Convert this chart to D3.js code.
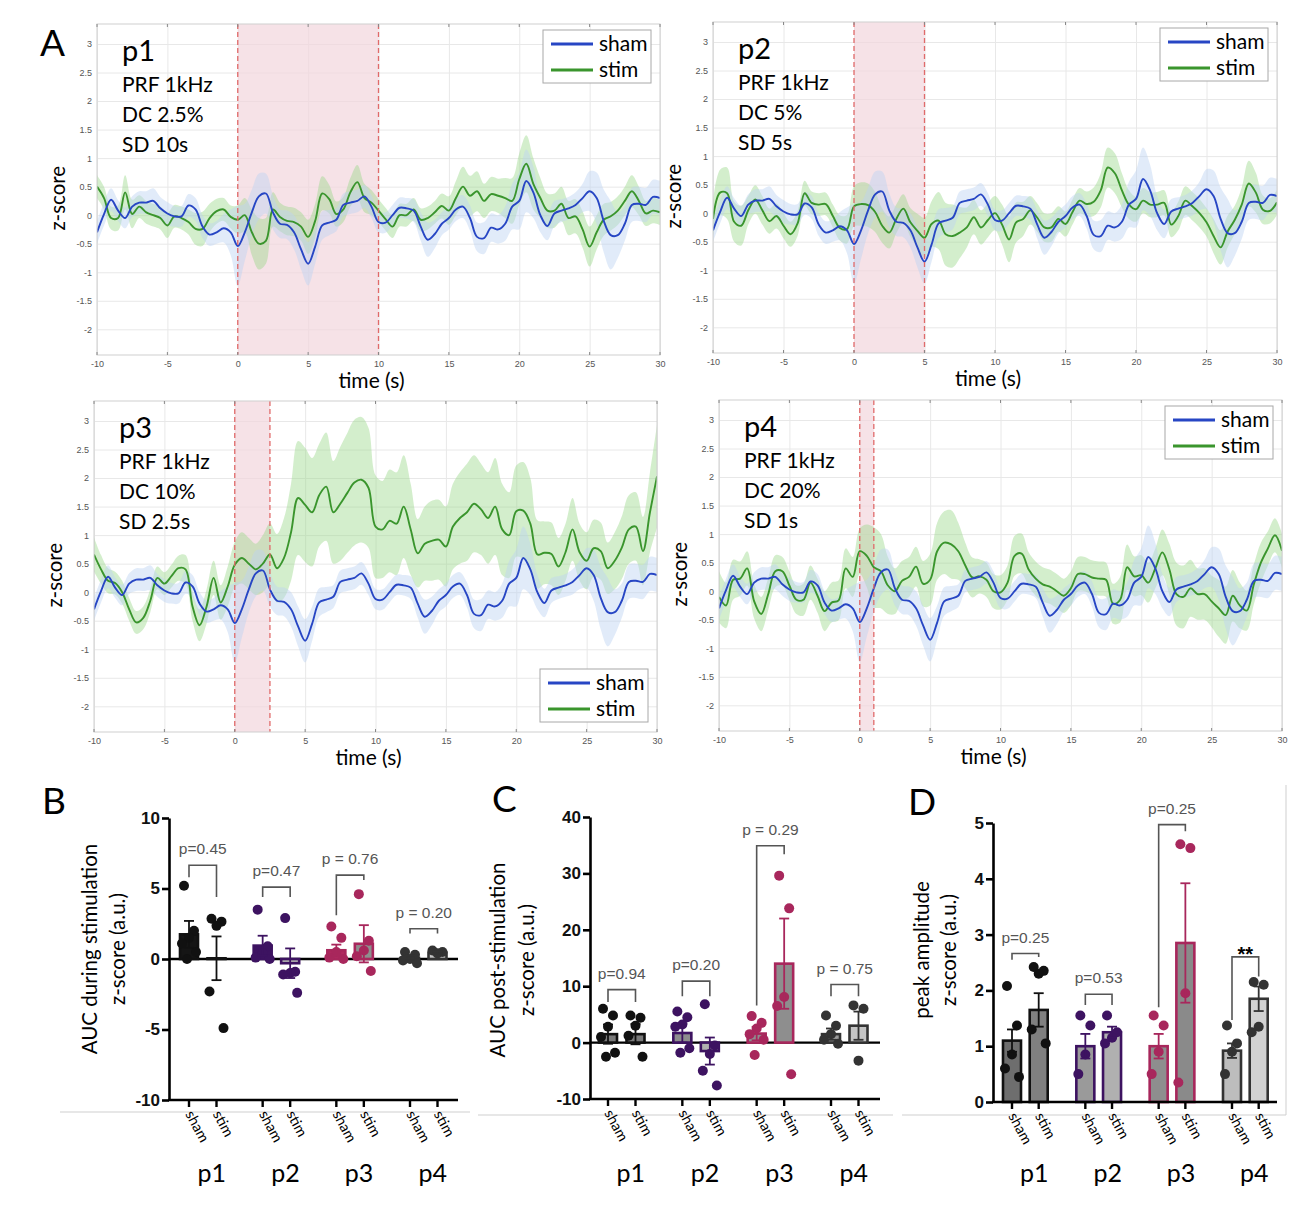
<!DOCTYPE html>
<html><head><meta charset="utf-8">
<script src="https://cdn.jsdelivr.net/npm/d3@7"></script>
<style>body{margin:0;background:#fff}svg{display:block}</style>
</head><body>
<svg id="fig" width="1314" height="1220"></svg>
<script>
// ================= DATA =================
// Panel A: time series sampled every 0.5 s from -10 s to 30 s (81 samples)
const timeStart = -10, timeStep = 0.5;
const shamMean = [
 -0.30,0.02,0.27,0.08,-0.05,0.15,0.22,0.22,0.25,0.12,
 0.03,-0.02,-0.02,0.17,0.10,-0.20,-0.34,-0.30,-0.23,-0.30,
 -0.54,-0.30,0.05,0.33,0.38,0.05,-0.15,-0.17,-0.30,-0.60,
 -0.85,-0.55,-0.18,-0.13,-0.08,0.18,0.22,0.25,0.33,0.15,
 -0.12,-0.13,0.00,0.13,0.12,0.08,-0.20,-0.43,-0.33,-0.15,
 -0.05,0.10,0.15,-0.05,-0.38,-0.40,-0.22,-0.25,-0.15,0.15,
 0.25,0.60,0.40,0.00,-0.19,0.03,0.08,0.12,0.18,0.30,
 0.42,0.30,-0.10,-0.35,-0.35,-0.15,0.18,0.20,0.18,0.32,
 0.30];
const shamSem = [
 0.20,0.20,0.20,0.18,0.18,0.18,0.20,0.20,0.22,0.20,
 0.20,0.18,0.18,0.20,0.20,0.20,0.20,0.20,0.25,0.40,
 0.70,0.50,0.40,0.40,0.35,0.30,0.25,0.25,0.30,0.35,
 0.38,0.30,0.25,0.22,0.20,0.20,0.20,0.20,0.20,0.20,
 0.18,0.18,0.18,0.18,0.18,0.20,0.25,0.30,0.25,0.20,
 0.20,0.20,0.20,0.22,0.25,0.28,0.25,0.25,0.30,0.40,
 0.50,0.55,0.45,0.30,0.25,0.22,0.20,0.20,0.22,0.25,
 0.35,0.45,0.55,0.60,0.40,0.30,0.30,0.30,0.30,0.30,
 0.30];
const stimMeanP1 = [
 0.50,0.30,-0.05,-0.05,0.40,0.02,0.15,0.05,0.00,-0.05,
 -0.18,-0.02,-0.05,-0.12,-0.24,-0.24,-0.05,0.07,0.10,-0.03,
 -0.08,0.00,-0.30,-0.50,-0.45,0.10,-0.03,-0.10,-0.12,-0.20,
 -0.38,-0.10,0.38,0.28,0.02,0.10,0.40,0.58,0.30,0.22,
 0.08,-0.07,-0.20,0.00,0.00,0.10,-0.08,-0.05,0.05,0.16,
 0.08,0.30,0.50,0.34,0.42,0.25,0.37,0.34,0.30,0.25,
 0.63,0.90,0.55,0.30,0.08,0.08,0.20,-0.05,-0.02,-0.25,
 -0.55,-0.30,-0.08,-0.02,0.08,0.25,0.42,0.25,0.03,0.08,
 0.05];
const stimSemP1 = [
 0.20,0.20,0.20,0.22,0.30,0.25,0.20,0.20,0.20,0.20,
 0.22,0.20,0.20,0.22,0.28,0.30,0.25,0.22,0.20,0.20,
 0.25,0.30,0.40,0.45,0.40,0.30,0.25,0.25,0.25,0.25,
 0.30,0.30,0.30,0.25,0.22,0.22,0.25,0.30,0.25,0.22,
 0.20,0.20,0.20,0.20,0.20,0.20,0.20,0.20,0.20,0.22,
 0.25,0.30,0.35,0.35,0.35,0.30,0.30,0.30,0.35,0.40,
 0.45,0.50,0.45,0.35,0.30,0.30,0.30,0.30,0.30,0.32,
 0.35,0.30,0.28,0.25,0.25,0.25,0.28,0.25,0.22,0.22,
 0.22];
const stimMeanP2 = [
 -0.10,0.36,0.35,-0.15,-0.22,0.05,0.24,0.05,-0.14,-0.05,
 -0.22,-0.37,-0.18,0.35,0.18,0.15,0.16,-0.05,-0.26,-0.28,
 0.12,0.16,0.14,0.02,-0.22,-0.34,-0.10,0.08,-0.16,-0.31,
 -0.43,-0.19,-0.13,-0.37,-0.40,-0.34,-0.25,-0.07,-0.25,-0.12,
 0.00,-0.20,-0.46,-0.16,-0.10,0.05,-0.08,-0.25,-0.25,-0.10,
 -0.19,0.02,0.22,0.16,0.20,0.40,0.80,0.70,0.40,0.15,
 0.07,0.22,0.15,0.15,0.18,-0.20,-0.05,0.22,0.12,0.00,
 -0.16,-0.40,-0.60,-0.32,-0.12,0.15,0.52,0.36,0.06,0.04,
 0.19];
const stimSemP2 = [
 0.30,0.40,0.45,0.35,0.35,0.25,0.25,0.25,0.22,0.22,
 0.22,0.22,0.22,0.22,0.20,0.20,0.20,0.20,0.22,0.25,
 0.35,0.38,0.38,0.35,0.30,0.28,0.25,0.25,0.25,0.30,
 0.35,0.40,0.50,0.55,0.55,0.45,0.35,0.30,0.30,0.30,
 0.30,0.35,0.40,0.35,0.30,0.25,0.25,0.25,0.25,0.22,
 0.22,0.22,0.22,0.22,0.25,0.30,0.35,0.35,0.30,0.25,
 0.22,0.22,0.22,0.22,0.22,0.22,0.25,0.25,0.25,0.25,
 0.25,0.30,0.30,0.28,0.25,0.30,0.40,0.35,0.25,0.22,
 0.22];
const stimMeanP3 = [
 0.66,0.40,0.20,0.16,0.00,-0.30,-0.53,-0.45,-0.15,0.25,
 0.15,0.28,0.42,0.40,-0.25,-0.58,-0.25,0.25,-0.18,0.10,
 0.48,0.60,0.50,0.40,0.50,0.66,0.42,0.60,1.05,1.65,
 1.53,1.40,1.70,1.85,1.40,1.55,1.74,1.92,1.97,1.83,
 1.15,1.10,1.25,1.20,1.50,1.10,0.68,0.85,0.90,0.92,
 0.80,1.15,1.30,1.40,1.55,1.45,1.30,1.50,1.10,1.00,
 1.42,1.43,1.20,0.66,0.69,0.67,0.45,0.70,1.10,0.70,
 0.55,0.77,0.72,0.42,0.55,0.78,1.10,1.15,0.72,1.40,
 2.03];
const stimSemP3 = [
 0.30,0.25,0.22,0.20,0.20,0.20,0.20,0.20,0.20,0.20,
 0.20,0.20,0.22,0.25,0.25,0.28,0.30,0.30,0.30,0.35,
 0.40,0.45,0.45,0.45,0.50,0.55,0.60,0.70,0.85,1.00,
 1.00,0.95,0.90,0.95,0.90,1.00,1.05,1.10,1.10,1.05,
 0.90,0.85,0.90,0.90,0.90,0.80,0.60,0.65,0.70,0.70,
 0.70,0.75,0.80,0.85,0.85,0.80,0.80,0.85,0.80,0.75,
 0.80,0.85,0.80,0.60,0.55,0.55,0.50,0.50,0.55,0.50,
 0.50,0.50,0.50,0.45,0.50,0.55,0.60,0.60,0.60,0.70,
 0.90];
const stimMeanP4 = [
 -0.10,-0.25,0.20,0.22,0.40,-0.18,-0.40,-0.05,0.35,0.35,
 0.10,-0.15,-0.15,0.15,-0.08,-0.35,-0.20,-0.16,0.40,0.25,
 0.70,0.62,0.42,0.35,0.10,0.00,0.18,0.25,0.43,0.13,
 0.20,0.70,0.85,0.82,0.70,0.45,0.24,0.26,0.20,0.00,
 -0.02,0.15,0.62,0.66,0.38,0.22,0.12,0.08,0.00,-0.08,
 0.05,0.30,0.30,0.24,0.22,0.20,-0.22,-0.15,0.42,0.26,
 0.28,0.15,0.40,0.68,0.38,-0.05,-0.10,0.05,-0.05,-0.05,
 -0.18,-0.30,-0.42,-0.08,-0.25,-0.34,0.12,0.50,0.75,0.98,
 0.71];
const stimSemP4 = [
 0.45,0.40,0.35,0.30,0.30,0.30,0.30,0.28,0.28,0.25,
 0.25,0.25,0.28,0.30,0.30,0.35,0.35,0.35,0.35,0.35,
 0.40,0.55,0.70,0.65,0.50,0.40,0.35,0.35,0.35,0.40,
 0.45,0.50,0.55,0.60,0.50,0.40,0.35,0.30,0.30,0.30,
 0.30,0.30,0.35,0.35,0.30,0.30,0.30,0.30,0.30,0.30,
 0.30,0.30,0.30,0.30,0.30,0.30,0.35,0.40,0.40,0.35,
 0.35,0.35,0.35,0.40,0.45,0.55,0.55,0.50,0.45,0.45,
 0.45,0.50,0.50,0.45,0.40,0.35,0.35,0.35,0.30,0.30,
 0.30];
const panelNames = ["p1","p2","p3","p4"];
const prfLabels = ["PRF 1kHz","PRF 1kHz","PRF 1kHz","PRF 1kHz"];
const dcLabels = ["DC 2.5%","DC 5%","DC 10%","DC 20%"];
const sdLabels = ["SD 10s","SD 5s","SD 2.5s","SD 1s"];
const stimDurations = [10,5,2.5,1];
const xTicksA = [-10,-5,0,5,10,15,20,25,30];
const yTicksA = [3,2.5,2,1.5,1,0.5,0,-0.5,-1,-1.5,-2];
const legendLabels = ["sham","stim"];

// Panels B-D: groups, conditions, bars (mean, SEM), individual points, p-values
const groups = ["p1","p2","p3","p4"];
const conditions = ["sham","stim"];
const bMeans = [[1.75,0.05],[0.95,-0.30],[0.62,1.08],[0.08,0.45]];
const bErr   = [[0.95,1.55],[0.70,1.05],[0.40,1.32],[0.15,0.10]];
const bPoints = [
 [[5.2,2.0,1.5,1.1,0.5,0.0],[2.85,2.65,2.35,-2.3,-4.9]],
 [[3.5,0.9,0.4,0.1,0.0],[2.9,-0.9,-1.0,-1.1,-2.4]],
 [[2.3,1.5,0.5,0.1,0.0],[4.6,1.3,0.6,0.2,-0.85]],
 [[0.5,0.3,0.0,-0.1,-0.3],[0.6,0.5,0.4]]];
const bBrackets = [[6.65,5.8,4.4],[5.1,4.4,4.4],[5.95,3.1,5.6],[2.15,1.8,1.8]];
const bPLabels = ["p=0.45","p=0.47","p = 0.76","p = 0.20"];
const bTicks = [10,5,0,-5,-10];

const cMeans = [[1.5,1.5],[1.7,-1.5],[1.6,14.0],[1.5,3.0]];
const cErr   = [[1.7,1.8],[1.7,2.4],[1.2,8.0],[1.0,2.5]];
const cPoints = [
 [[6.0,4.8,2.8,1.0,-1.8,-2.5],[4.8,4.4,3.0,1.2,-2.5]],
 [[5.5,4.5,3.2,2.8,-1.0,-1.8],[6.8,-0.5,-2.0,-5.0,-7.6]],
 [[4.7,3.5,2.5,1.5,0.5,-2.2],[29.6,23.8,8.1,6.5,-5.6]],
 [[4.8,3.0,1.5,0.5,-0.2],[6.6,6.0,-3.2]]];
const cBrackets = [[9.4,7.2,7.2],[10.9,8.2,8.2],[34.9,6.6,33.4],[10.3,8.2,8.2]];
const cPLabels = ["p=0.94","p=0.20","p = 0.29","p = 0.75"];
const cTicks = [40,30,20,10,0,-10];

const dMeans = [[1.1,1.65],[1.0,1.25],[1.0,2.85],[0.92,1.85]];
const dErr   = [[0.2,0.3],[0.22,0.1],[0.22,1.07],[0.13,0.22]];
const dPoints = [
 [[2.08,1.37,0.85,0.6,0.45],[2.42,2.35,2.3,1.3,1.05]],
 [[1.55,1.37,0.85,0.5],[1.55,1.25,1.15,1.05]],
 [[1.55,1.37,0.9,0.5],[4.62,4.55,1.95,0.35]],
 [[1.37,1.05,0.9,0.5],[2.15,2.1,1.35,1.25]]];
const dBrackets = [[2.66,2.55,2.6],[1.93,1.74,1.74],[4.97,1.7,4.85],[2.6,1.47,2.25]];
const dPLabels = ["p=0.25","p=0.53","p=0.25","**"];
const dTicks = [5,4,3,2,1,0];

// ================= DRAWING =================
const svg = d3.select("#fig");
const FH = "Lato, 'Open Sans', sans-serif";
const FA = "'Liberation Sans', Arial, sans-serif";
const plainFmt = d => String(d);
const times = shamMean.map((_, i) => timeStart + i * timeStep);
const stimMeans = [stimMeanP1, stimMeanP2, stimMeanP3, stimMeanP4];
const stimSems = [stimSemP1, stimSemP2, stimSemP3, stimSemP4];

const aLayout = [
  {x0:97, x1:660, y0:24, y1:355, legend:"top"},
  {x0:713,x1:1277,y0:22, y1:353, legend:"top"},
  {x0:94, x1:657, y0:401,y1:732, legend:"bottom"},
  {x0:719,x1:1282,y0:400,y1:731, legend:"top"}];
const BLUE = "#2746c4", GREEN = "#3a952d";

aLayout.forEach((L, k) => {
  const x = d3.scaleLinear().domain([-10, 30]).range([L.x0, L.x1]);
  const y = d3.scaleLinear().domain([-2.45, 3.35]).range([L.y1, L.y0]);
  const g = svg.append("g");
  const cid = "clipA" + k;
  svg.append("clipPath").attr("id", cid).append("rect")
    .attr("x", L.x0).attr("y", L.y0).attr("width", L.x1 - L.x0).attr("height", L.y1 - L.y0);
  // grid
  g.append("g").attr("transform", `translate(0,${L.y1})`)
    .call(d3.axisBottom(x).tickValues(xTicksA).tickSize(-(L.y1 - L.y0)).tickFormat(""))
    .call(s => { s.select(".domain").remove(); s.selectAll("line").attr("stroke", "#e8e8e8"); });
  g.append("g").attr("transform", `translate(${L.x0},0)`)
    .call(d3.axisLeft(y).tickValues(yTicksA).tickSize(-(L.x1 - L.x0)).tickFormat(""))
    .call(s => { s.select(".domain").remove(); s.selectAll("line").attr("stroke", "#e8e8e8"); });
  // stim window
  g.append("rect").attr("x", x(0)).attr("width", x(stimDurations[k]) - x(0))
    .attr("y", L.y0).attr("height", L.y1 - L.y0).attr("fill", "#f2d5dd").attr("opacity", 0.7);
  const pg = g.append("g").attr("clip-path", `url(#${cid})`);
  const curve = d3.curveCatmullRom.alpha(0.5);
  const band = (m, s) => d3.area().curve(curve).x((d, i) => x(times[i]))
      .y0((d, i) => y(m[i] - s[i])).y1((d, i) => y(m[i] + s[i]))(m);
  const line = m => d3.line().curve(curve).x((d, i) => x(times[i])).y(d => y(d))(m);
  pg.append("path").attr("d", band(stimMeans[k], stimSems[k])).attr("fill", "#96d686").attr("opacity", 0.42);
  pg.append("path").attr("d", band(shamMean, shamSem)).attr("fill", "#bcd3f2").attr("opacity", 0.45);
  pg.append("path").attr("d", line(stimMeans[k])).attr("fill", "none").attr("stroke", GREEN).attr("stroke-width", 1.9);
  pg.append("path").attr("d", line(shamMean)).attr("fill", "none").attr("stroke", BLUE).attr("stroke-width", 1.9);
  // dashed window edges
  [0, stimDurations[k]].forEach(t => g.append("line").attr("x1", x(t)).attr("x2", x(t))
    .attr("y1", L.y0).attr("y2", L.y1).attr("stroke", "#e06a6a").attr("stroke-width", 1.3).attr("stroke-dasharray", "5,3"));
  // box
  g.append("rect").attr("x", L.x0).attr("y", L.y0).attr("width", L.x1 - L.x0).attr("height", L.y1 - L.y0)
    .attr("fill", "none").attr("stroke", "#cfcfcf").attr("stroke-width", 1);
  // tick labels
  g.append("g").attr("transform", `translate(0,${L.y1})`)
    .call(d3.axisBottom(x).tickValues(xTicksA).tickFormat(plainFmt).tickSize(0).tickPadding(6))
    .call(s => { s.select(".domain").remove(); s.selectAll("text").attr("font-family", FA).attr("font-size", 9).attr("fill", "#555"); });
  g.append("g").attr("transform", `translate(${L.x0},0)`)
    .call(d3.axisLeft(y).tickValues(yTicksA).tickFormat(plainFmt).tickSize(0).tickPadding(5))
    .call(s => { s.select(".domain").remove(); s.selectAll("text").attr("font-family", FA).attr("font-size", 9).attr("fill", "#555"); });
  // small inner ticks
  xTicksA.forEach(t => {
    g.append("line").attr("x1", x(t)).attr("x2", x(t)).attr("y1", L.y0).attr("y2", L.y0 + 3).attr("stroke", "#888");
    g.append("line").attr("x1", x(t)).attr("x2", x(t)).attr("y1", L.y1).attr("y2", L.y1 - 3).attr("stroke", "#888");
  });
  // axis titles
  g.append("text").attr("x", (L.x0 + L.x1) / 2 - 7).attr("y", L.y1 + 33).attr("text-anchor", "middle")
    .attr("font-family", FH).attr("font-size", 21).text("time (s)");
  g.append("text").attr("transform", `translate(${L.x0 - 32},${y(0) - 17}) rotate(-90)`)
    .attr("text-anchor", "middle").attr("font-family", FH).attr("font-size", 20.5).text("z-score");
  // annotations
  const tx = L.x0 + 25;
  g.append("text").attr("x", tx).attr("y", L.y0 + 37).attr("font-family", FH).attr("font-size", 29).text(panelNames[k]);
  [prfLabels[k], dcLabels[k], sdLabels[k]].forEach((t, i) =>
    g.append("text").attr("x", tx).attr("y", L.y0 + 68 + i * 30).attr("font-family", FH).attr("font-size", 21).text(t));
  // legend
  const lw = 108, lh = 53;
  const lx = L.x1 - 9 - lw;
  const ly = L.legend === "top" ? L.y0 + 6 : L.y1 - 10 - lh;
  const lg = g.append("g").attr("transform", `translate(${lx},${ly})`);
  lg.append("rect").attr("width", lw).attr("height", lh).attr("fill", "#fff").attr("stroke", "#a8a8a8");
  [BLUE, GREEN].forEach((c, i) => {
    lg.append("line").attr("x1", 8).attr("x2", 50).attr("y1", 14 + i * 26).attr("y2", 14 + i * 26).attr("stroke", c).attr("stroke-width", 3);
    lg.append("text").attr("x", 56).attr("y", 21 + i * 26).attr("font-family", FH).attr("font-size", 21).text(legendLabels[i]);
  });
});

// letters
[["A", 40, 56], ["B", 42, 814], ["C", 492, 812], ["D", 908, 815]].forEach(([t, x, y]) =>
  svg.append("text").attr("x", x).attr("y", y).attr("font-family", FH).attr("font-size", 37).text(t));

// separator lines
const sep = svg.append("g").attr("stroke", "#cfcfcf").attr("stroke-width", 1);
sep.append("line").attr("x1", 60).attr("x2", 470).attr("y1", 1112).attr("y2", 1112);
sep.append("line").attr("x1", 478).attr("x2", 893).attr("y1", 1115).attr("y2", 1115);
sep.append("line").attr("x1", 902).attr("x2", 1286).attr("y1", 1115).attr("y2", 1115);
sep.append("line").attr("x1", 1286).attr("x2", 1286).attr("y1", 785).attr("y2", 1115);

const groupColors = ["#111111", "#3d1361", "#a8275c", "#333333"];
const jitter = [-5, 5, 0, -7, 7, -2];

function barPanel(P) {
  const y = d3.scaleLinear().domain(P.domain).range([P.yBottom, P.yTop]);
  const gx = d3.scalePoint().domain(groups).range([P.gx0, P.gx1]);
  const cx = (gi, ci) => gx(groups[gi]) + ci * P.off;
  const g = svg.append("g");
  const y0 = y(Math.max(0, P.domain[0]));
  if (P.domain[0] < 0) g.append("line").attr("x1", P.axisX).attr("x2", P.axisEnd)
    .attr("y1", y(0)).attr("y2", y(0)).attr("stroke", "#000").attr("stroke-width", 2.3);
  groups.forEach((grp, gi) => conditions.forEach((cond, ci) => {
    const X = cx(gi, ci), m = P.means[gi][ci], e = P.errs[gi][ci], col = groupColors[gi];
    g.append("rect").attr("x", X - 9).attr("width", 18)
      .attr("y", Math.min(y(m), y0)).attr("height", Math.abs(y(m) - y0))
      .attr("fill", P.fills[gi][ci]).attr("stroke", col).attr("stroke-width", 2.6);
    P.points[gi][ci].forEach((v, i) => g.append("circle").attr("cx", X + jitter[i % 6]).attr("cy", y(v))
      .attr("r", 5).attr("fill", col));
    g.append("line").attr("x1", X).attr("x2", X).attr("y1", y(m - e)).attr("y2", y(m + e))
      .attr("stroke", col).attr("stroke-width", 1.8);
    [m - e, m + e].forEach(v => g.append("line").attr("x1", X - 5).attr("x2", X + 5)
      .attr("y1", y(v)).attr("y2", y(v)).attr("stroke", col).attr("stroke-width", 1.8));
  }));
  // axes
  g.append("g").attr("transform", `translate(${P.axisX},0)`)
    .call(d3.axisLeft(y).tickValues(P.ticks).tickFormat(plainFmt).tickSize(7).tickSizeOuter(0).tickPadding(2))
    .call(s => {
      s.select(".domain").attr("stroke-width", 2.6);
      s.selectAll(".tick line").attr("stroke-width", 2.6);
      s.selectAll("text").attr("font-family", FA).attr("font-weight", "bold").attr("font-size", 17).attr("fill", "#111");
    });
  const yb = y(P.domain[0]);
  g.append("line").attr("x1", P.axisX - 1).attr("x2", P.axisEnd).attr("y1", yb).attr("y2", yb)
    .attr("stroke", "#000").attr("stroke-width", 2.6);
  groups.forEach((grp, gi) => conditions.forEach((cond, ci) => {
    const X = cx(gi, ci);
    g.append("line").attr("x1", X).attr("x2", X).attr("y1", yb).attr("y2", yb + 7).attr("stroke", "#000").attr("stroke-width", 2.4);
    g.append("text").attr("transform", `translate(${X - 4},${yb + 14}) rotate(62)`)
      .attr("font-family", FH).attr("font-size", 14.5).text(cond);
  }));
  groups.forEach((grp, gi) => g.append("text").attr("x", (cx(gi, 0) + cx(gi, 1)) / 2 + 9).attr("y", 1182)
    .attr("text-anchor", "middle").attr("font-family", FH).attr("font-size", 25).text(grp));
  // brackets
  P.brackets.forEach((b, gi) => {
    const xl = cx(gi, 0), xr = cx(gi, 1);
    g.append("path").attr("d", `M${xl},${y(b[1])}V${y(b[0])}H${xr}V${y(b[2])}`)
      .attr("fill", "none").attr("stroke", "#555").attr("stroke-width", 1.6);
    const lab = P.labels[gi];
    if (lab === "**") {
      g.append("text").attr("x", (xl + xr) / 2).attr("y", y(b[0]) + 4).attr("text-anchor", "middle")
        .attr("font-family", FA).attr("font-weight", "bold").attr("font-size", 20).text(lab);
    } else {
      g.append("text").attr("x", (xl + xr) / 2).attr("y", y(b[0]) - 11).attr("text-anchor", "middle")
        .attr("font-family", FA).attr("font-size", 15.5).attr("fill", "#555").text(lab);
    }
  });
  // y label
  P.ylabel.forEach((t, i) => g.append("text")
    .attr("transform", `translate(${P.ylabX[i]},${P.ylabY}) rotate(-90)`).attr("text-anchor", "middle")
    .attr("dominant-baseline", "central").attr("font-family", FH).attr("font-size", P.ylabSize).text(t));
}

barPanel({domain: [-10, 10], yBottom: 1100, yTop: 818, gx0: 189, gx1: 410, off: 27.5, axisX: 169, axisEnd: 458,
  ticks: bTicks, means: bMeans, errs: bErr, points: bPoints, brackets: bBrackets, labels: bPLabels,
  fills: [["#151515", "#8a8a8a"], ["#3d1361", "#b0b0b0"], ["#b02a60", "#8e8e8e"], ["#444", "#c4c4c4"]],
  ylabel: ["AUC during stimulation", "z-score (a.u.)"], ylabX: [89, 117], ylabY: 949, ylabSize: 20.5});
barPanel({domain: [-10, 40], yBottom: 1099, yTop: 817, gx0: 608, gx1: 831, off: 27.5, axisX: 590, axisEnd: 880,
  ticks: cTicks, means: cMeans, errs: cErr, points: cPoints, brackets: cBrackets, labels: cPLabels,
  fills: [["#7a7a7a", "#7a7a7a"], ["#8e8e8e", "#b0b0b0"], ["#8e8e8e", "#8e8e8e"], ["#9a9a9a", "#c4c4c4"]],
  ylabel: ["AUC post-stimulation", "z-score (a.u.)"], ylabX: [497, 526], ylabY: 960, ylabSize: 20.5});
barPanel({domain: [0, 5], yBottom: 1102, yTop: 823, gx0: 1012, gx1: 1232, off: 26.7, axisX: 993, axisEnd: 1277,
  ticks: dTicks, means: dMeans, errs: dErr, points: dPoints, brackets: dBrackets, labels: dPLabels,
  fills: [["#6e6e6e", "#808080"], ["#9a9a9a", "#b0b0b0"], ["#8e8e8e", "#8a8a8a"], ["#bdbdbd", "#d2d2d2"]],
  ylabel: ["peak amplitude", "z-score (a.u.)"], ylabX: [921, 948], ylabY: 950, ylabSize: 20.5});
</script>
</body></html>
